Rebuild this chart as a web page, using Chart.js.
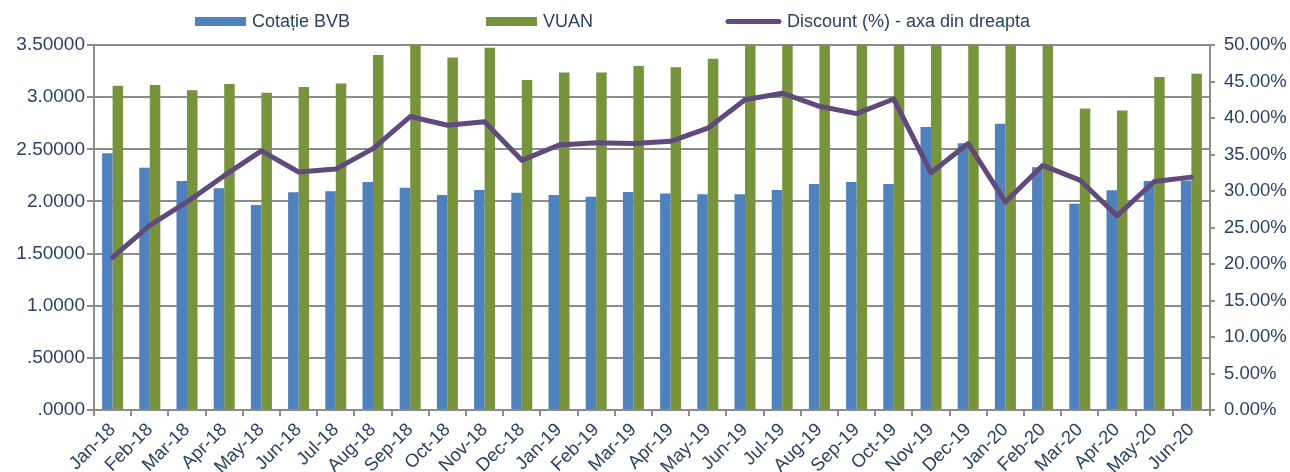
<!DOCTYPE html>
<html>
<head>
<meta charset="utf-8">
<script src="https://cdn.jsdelivr.net/npm/chart.js@4.4.1/dist/chart.umd.min.js"></script>
<style>
  html, body { margin: 0; padding: 0; background: #ffffff; }
  #wrap { width: 1290px; height: 472px; position: relative; }
</style>
</head>
<body>
<div id="wrap"><canvas id="c" width="1290" height="472"></canvas></div>
<script>
const categories = ['Jan-18','Feb-18','Mar-18','Apr-18','May-18','Jun-18','Jul-18','Aug-18','Sep-18','Oct-18','Nov-18','Dec-18',
  'Jan-19','Feb-19','Mar-19','Apr-19','May-19','Jun-19','Jul-19','Aug-19','Sep-19','Oct-19','Nov-19','Dec-19',
  'Jan-20','Feb-20','Mar-20','Apr-20','May-20','Jun-20'];

const cotatieBVB = [2.461, 2.323, 2.196, 2.126, 1.966, 2.087, 2.097, 2.186, 2.131, 2.061, 2.109, 2.084,
  2.061, 2.045, 2.090, 2.077, 2.068, 2.068, 2.109, 2.167, 2.186, 2.167, 2.713, 2.557,
  2.745, 2.327, 1.978, 2.106, 2.196, 2.200];

const vuan = [3.110, 3.116, 3.065, 3.126, 3.043, 3.097, 3.132, 3.404, 3.56, 3.381, 3.474, 3.164,
  3.237, 3.237, 3.298, 3.286, 3.368, 3.60, 3.73, 3.71, 3.68, 3.78, 4.02, 4.03,
  3.84, 3.52, 2.892, 2.873, 3.193, 3.225];

const discountPct = [20.9, 25.3, 28.5, 32.1, 35.5, 32.6, 33.0, 35.8, 40.2, 39.0, 39.5, 34.2,
  36.3, 36.6, 36.5, 36.8, 38.6, 42.5, 43.4, 41.6, 40.6, 42.6, 32.5, 36.5,
  28.5, 33.5, 31.5, 26.6, 31.3, 31.9];

const leftTickLabels = ['.0000', '.50000', '1.0000', '1.50000', '2.0000', '2.50000', '3.0000', '3.50000'];

const seriesNames = ['Cotație BVB', 'VUAN', 'Discount (%) - axa din dreapta'];

const TEXT = '#2B4263';
const GRID = '#8C8C8C';
const FONT = "'Liberation Sans', Arial, sans-serif";

const legendPlugin = {
  id: 'customLegend',
  afterDraw(chart) {
    const ctx = chart.ctx;
    const xs = [195, 486, 726];
    ctx.save();
    ctx.font = '18px ' + FONT;
    ctx.fillStyle = TEXT;
    ctx.textBaseline = 'middle';
    ctx.textAlign = 'left';
    const y = 21.5;
    chart.data.datasets.forEach((ds, i) => {
      const x = xs[i];
      if (ds.type === 'line') {
        ctx.strokeStyle = ds.borderColor;
        ctx.lineWidth = 5;
        ctx.lineCap = 'round';
        ctx.beginPath();
        ctx.moveTo(x + 2, y);
        ctx.lineTo(x + 53, y);
        ctx.stroke();
        ctx.fillStyle = TEXT;
        ctx.fillText(ds.label, x + 61, y + 0.5);
      } else {
        ctx.fillStyle = ds.backgroundColor;
        ctx.fillRect(x, y - 4.5, 51, 9);
        ctx.fillStyle = TEXT;
        ctx.fillText(ds.label, x + 57, y + 0.5);
      }
    });
    ctx.restore();
  }
};

new Chart(document.getElementById('c'), {
  data: {
    labels: categories,
    datasets: [
      {
        type: 'bar',
        label: seriesNames[0],
        data: cotatieBVB,
        backgroundColor: '#4F81BD',
        yAxisID: 'y',
        order: 1,
        categoryPercentage: 0.565,
        barPercentage: 1.0
      },
      {
        type: 'bar',
        label: seriesNames[1],
        data: vuan,
        backgroundColor: '#77933C',
        yAxisID: 'y',
        order: 1,
        categoryPercentage: 0.565,
        barPercentage: 1.0
      },
      {
        type: 'line',
        label: seriesNames[2],
        data: discountPct,
        borderColor: '#604A7B',
        backgroundColor: '#604A7B',
        borderWidth: 5,
        pointRadius: 0,
        tension: 0,
        borderCapStyle: 'round',
        borderJoinStyle: 'round',
        yAxisID: 'y1',
        order: 0
      }
    ]
  },
  options: {
    responsive: false,
    animation: false,
    devicePixelRatio: 1,
    layout: { padding: { top: 45, left: 0, right: 0, bottom: 0 } },
    plugins: {
      legend: { display: false },
      tooltip: { enabled: false }
    },
    scales: {
      x: {
        offset: true,
        grid: {
          offset: true,
          drawOnChartArea: false,
          drawTicks: true,
          tickLength: 6,
          color: GRID,
          lineWidth: 2
        },
        border: { color: GRID, width: 2 },
        ticks: {
          autoSkip: false,
          minRotation: 45,
          maxRotation: 45,
          padding: 3,
          color: TEXT,
          font: { family: FONT, size: 18.5 }
        },
        afterFit(scale) { scale.height = 62; }
      },
      y: {
        position: 'left',
        min: 0,
        max: 3.5,
        ticks: {
          stepSize: 0.5,
          padding: 2,
          color: TEXT,
          font: { family: FONT, size: 19 },
          callback: (v, i) => leftTickLabels[i]
        },
        grid: {
          color: GRID,
          lineWidth: 2,
          tickLength: 7
        },
        border: { color: GRID, width: 2 },
        afterFit(scale) { scale.width = 94; }
      },
      y1: {
        position: 'right',
        min: 0,
        max: 50,
        ticks: {
          stepSize: 5,
          padding: 9,
          color: TEXT,
          font: { family: FONT, size: 18.5 },
          callback: (v) => Number(v).toFixed(2) + '%'
        },
        grid: {
          drawOnChartArea: false,
          color: GRID,
          lineWidth: 2,
          tickLength: 5
        },
        border: { color: GRID, width: 2 },
        afterFit(scale) { scale.width = 80; }
      }
    }
  },
  plugins: [legendPlugin]
});
</script>
</body>
</html>
